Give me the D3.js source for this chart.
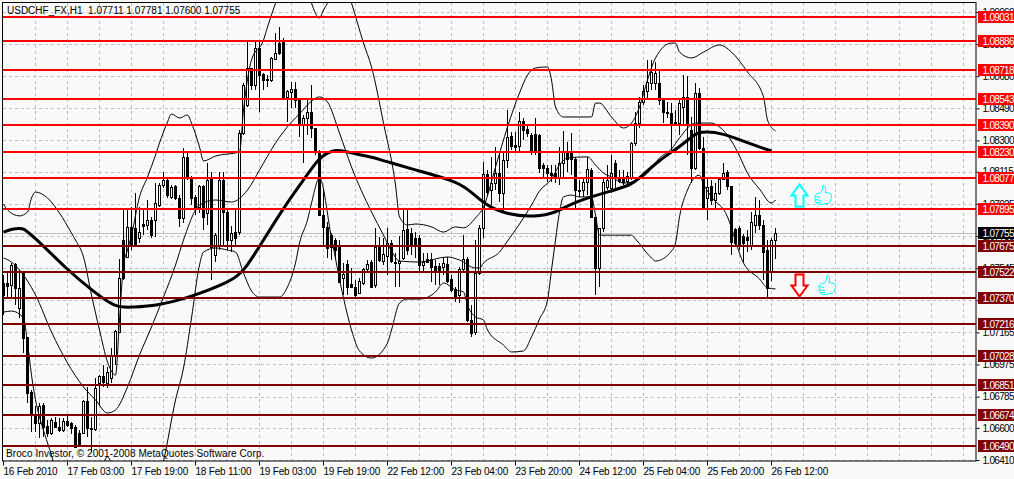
<!DOCTYPE html>
<html>
<head>
<meta charset="utf-8">
<script src="https://cdnjs.cloudflare.com/ajax/libs/d3/7.8.5/d3.min.js"></script>
<style>
	html, body { margin: 0; padding: 0; background: #f9f9f9; overflow: hidden; }
	text { font-family: "Liberation Sans", Arial, sans-serif; font-size: 10px; fill: #000; }
	#chart { display: block; }
	.tick line { stroke: #000; }
</style>
</head>
<body>
<div id="chart"></div>
<script>
// hourly USDCHF candles, one entry per bar
let opens = [
	1.07457,1.07457,1.07445,1.07569,1.07309,1.07516,1.07138,1.06812,1.06676,1.06629,
	1.06735,1.06612,1.06569,1.06635,1.06606,1.06587,1.06641,1.06629,1.06606,1.06569,
	1.06569,1.06759,1.06600,1.06594,1.06865,1.06907,1.06865,1.06895,1.07031,1.07167,
	1.07711,1.07611,1.07789,1.07783,1.07723,1.07806,1.07800,1.07830,1.07830,1.07918,
	1.08036,1.08066,1.07966,1.08030,1.07960,1.07842,1.08203,1.08078,1.07966,1.07907,
	1.08030,1.07871,1.08072,1.07622,1.07681,1.08066,1.07877,1.07711,1.07758,1.07758,
	1.08344,1.08509,1.08729,1.08628,1.08847,1.08693,1.08664,1.08658,1.08782,1.08876,
	1.08882,1.08558,1.08587,1.08605,1.08539,1.08397,1.08433,1.08468,1.08374,1.08232,
	1.07859,1.07789,1.07740,1.07711,1.07676,1.07487,1.07569,1.07451,1.07434,1.07398,
	1.07457,1.07540,1.07581,1.07445,1.07670,1.07587,1.07617,1.07693,1.07581,1.07575,
	1.07605,1.07777,1.07752,1.07723,1.07723,1.07563,1.07599,1.07599,1.07558,1.07558,
	1.07552,1.07569,1.07481,1.07422,1.07386,1.07540,1.07599,1.07238,1.07167,1.07516,
	1.07783,1.08101,1.08007,1.08048,1.08107,1.07989,1.08185,1.08327,1.08273,1.08267,
	1.08415,1.08368,1.08333,1.08339,1.08333,1.08155,1.08137,1.08107,1.08107,1.08084,
	1.08167,1.08238,1.08238,1.08191,1.08007,1.08007,1.08054,1.08125,1.07848,1.07546,
	1.07783,1.08025,1.08019,1.08167,1.08078,1.08078,1.08060,1.08084,1.08285,1.08403,
	1.08527,1.08593,1.08640,1.08640,1.08640,1.08539,1.08468,1.08462,1.08409,1.08403,
	1.08498,1.08558,1.08362,1.08137,1.08581,1.08256,1.07960,1.08030,1.07948,1.07989,
	1.08072,1.08113,1.08030,1.07777,1.07783,1.07735,1.07729,1.07681,1.07800,1.07859,
	1.07800,1.07652,1.07522,1.07711
];
let highs = [
	1.07504,1.07516,1.07575,1.07575,1.07534,1.07516,1.07138,1.06824,1.06730,1.06747,
	1.06747,1.06647,1.06659,1.06665,1.06659,1.06659,1.06676,1.06635,1.06617,1.06587,
	1.06765,1.06842,1.06665,1.06895,1.06912,1.06972,1.06961,1.07073,1.07179,1.07599,
	1.07901,1.07901,1.07907,1.07989,1.07907,1.07901,1.07948,1.07848,1.08048,1.08048,
	1.08113,1.08078,1.08036,1.08036,1.07977,1.08256,1.08226,1.08090,1.07977,1.08036,
	1.08036,1.08167,1.08113,1.07752,1.08113,1.08113,1.07901,1.07795,1.07889,1.08362,
	1.08640,1.08882,1.08729,1.08882,1.08882,1.08699,1.08687,1.08794,1.08935,1.08971,
	1.08906,1.08599,1.08646,1.08646,1.08552,1.08450,1.08539,1.08628,1.08374,1.08244,
	1.08019,1.07818,1.07752,1.07723,1.07711,1.07575,1.07593,1.07546,1.07475,1.07487,
	1.07546,1.07593,1.07593,1.07783,1.07729,1.07723,1.07783,1.07711,1.07634,1.07735,
	1.07889,1.07889,1.07783,1.07758,1.07740,1.07634,1.07634,1.07634,1.07593,1.07575,
	1.07611,1.07611,1.07504,1.07434,1.07552,1.07740,1.07611,1.07326,1.07711,1.07800,
	1.08173,1.08125,1.08203,1.08262,1.08226,1.08232,1.08480,1.08350,1.08350,1.08468,
	1.08433,1.08391,1.08344,1.08433,1.08339,1.08167,1.08155,1.08155,1.08155,1.08262,
	1.08356,1.08291,1.08344,1.08203,1.08066,1.08084,1.08203,1.08137,1.07848,1.07783,
	1.08084,1.08155,1.08214,1.08185,1.08125,1.08125,1.08113,1.08291,1.08468,1.08558,
	1.08628,1.08776,1.08776,1.08764,1.08717,1.08545,1.08527,1.08521,1.08480,1.08539,
	1.08687,1.08681,1.08439,1.08640,1.08611,1.08321,1.08078,1.08066,1.08048,1.08084,
	1.08167,1.08125,1.08030,1.07783,1.07795,1.07746,1.07770,1.07877,1.07966,1.07948,
	1.07830,1.07711,1.07723,1.07781
];
let lows = [
	1.07267,1.07368,1.07368,1.07326,1.07250,1.07043,1.06747,1.06575,1.06575,1.06540,
	1.06546,1.06546,1.06557,1.06600,1.06575,1.06575,1.06606,1.06563,1.06481,1.06487,
	1.06569,1.06546,1.06457,1.06581,1.06735,1.06842,1.06836,1.06865,1.06972,1.07161,
	1.07475,1.07611,1.07652,1.07670,1.07693,1.07740,1.07770,1.07723,1.07729,1.07907,
	1.08019,1.07960,1.07954,1.07948,1.07789,1.07812,1.08066,1.07918,1.07859,1.07871,
	1.07770,1.07800,1.07475,1.07581,1.07652,1.07681,1.07652,1.07640,1.07681,1.07740,
	1.08333,1.08498,1.08599,1.08599,1.08468,1.08599,1.08617,1.08646,1.08776,1.08805,
	1.08539,1.08409,1.08492,1.08492,1.08321,1.08167,1.08333,1.08315,1.08214,1.07854,
	1.07681,1.07605,1.07593,1.07605,1.07463,1.07386,1.07386,1.07428,1.07368,1.07398,
	1.07445,1.07516,1.07428,1.07428,1.07581,1.07563,1.07504,1.07575,1.07434,1.07434,
	1.07593,1.07622,1.07622,1.07605,1.07522,1.07516,1.07581,1.07463,1.07445,1.07445,
	1.07504,1.07457,1.07404,1.07344,1.07338,1.07522,1.07226,1.07138,1.07150,1.07504,
	1.07723,1.07977,1.07918,1.08007,1.07936,1.07877,1.08137,1.08244,1.08232,1.08232,
	1.08303,1.08321,1.08214,1.08214,1.08107,1.08078,1.08054,1.08054,1.08048,1.08036,
	1.08084,1.08113,1.08095,1.07889,1.07966,1.07966,1.07977,1.07842,1.07386,1.07434,
	1.07758,1.08007,1.07989,1.08007,1.08048,1.08036,1.08036,1.08066,1.08267,1.08374,
	1.08509,1.08552,1.08599,1.08599,1.08509,1.08403,1.08433,1.08244,1.08391,1.08333,
	1.08391,1.08214,1.08048,1.08125,1.08244,1.07889,1.07830,1.07918,1.07889,1.07977,
	1.08066,1.08007,1.07622,1.07676,1.07652,1.07581,1.07640,1.07652,1.07752,1.07770,
	1.07475,1.07362,1.07469,1.07600
];
let closes = [
	1.07386,1.07440,1.07563,1.07428,1.07428,1.07132,1.06806,1.06676,1.06629,1.06730,
	1.06606,1.06569,1.06647,1.06606,1.06587,1.06641,1.06617,1.06600,1.06487,1.06493,
	1.06759,1.06600,1.06594,1.06836,1.06907,1.06871,1.06930,1.07031,1.07173,1.07487,
	1.07487,1.07789,1.07681,1.07681,1.07758,1.07795,1.07830,1.07740,1.07930,1.08036,
	1.08066,1.07977,1.08025,1.07960,1.07842,1.08203,1.08078,1.07960,1.07907,1.08030,
	1.07848,1.08066,1.07670,1.07740,1.08066,1.07877,1.07711,1.07752,1.07723,1.08344,
	1.08628,1.08729,1.08628,1.08847,1.08687,1.08658,1.08658,1.08788,1.08817,1.08817,
	1.08558,1.08593,1.08605,1.08539,1.08403,1.08433,1.08468,1.08374,1.08232,1.07859,
	1.07789,1.07664,1.07670,1.07652,1.07463,1.07510,1.07434,1.07434,1.07386,1.07469,
	1.07540,1.07569,1.07434,1.07670,1.07593,1.07628,1.07693,1.07587,1.07575,1.07587,
	1.07770,1.07652,1.07681,1.07681,1.07563,1.07581,1.07581,1.07552,1.07522,1.07522,
	1.07575,1.07469,1.07416,1.07380,1.07540,1.07599,1.07238,1.07161,1.07516,1.07783,
	1.08101,1.07995,1.08048,1.08107,1.07989,1.08185,1.08321,1.08267,1.08262,1.08415,
	1.08362,1.08344,1.08232,1.08232,1.08137,1.08137,1.08107,1.08095,1.08084,1.08167,
	1.08238,1.08191,1.08191,1.08007,1.08001,1.08054,1.08131,1.07848,1.07546,1.07783,
	1.08054,1.08066,1.08107,1.08078,1.08060,1.08054,1.08090,1.08285,1.08403,1.08527,
	1.08593,1.08646,1.08705,1.08699,1.08539,1.08468,1.08462,1.08403,1.08403,1.08521,
	1.08558,1.08391,1.08137,1.08581,1.08256,1.07901,1.08025,1.07948,1.07989,1.08072,
	1.08107,1.08030,1.07699,1.07693,1.07681,1.07693,1.07711,1.07818,1.07859,1.07800,
	1.07640,1.07428,1.07711,1.07755
];

// thick moving average, read at these bars
let maBars = [0,2,5,6,8,16,22,28,32,38,47,57,60,65,70,75,79,82,84,88,92,96,105,112,116,120,126,133,138,142,150,157,159,164,169,172,174,180,186,192];
let maValues = [
	1.07758,1.07777,1.07783,1.07758,1.07723,1.07534,1.07416,1.07309,1.07315,1.07321,
	1.07374,1.07469,1.07522,1.07711,1.07901,1.08066,1.08203,1.08238,1.08244,1.08220,
	1.08203,1.08173,1.08113,1.08066,1.08019,1.07924,1.07859,1.07848,1.07871,1.07930,
	1.07989,1.08036,1.08078,1.08185,1.08262,1.08321,1.08356,1.08344,1.08285,1.08238
];

// thin band lines
let upperBars = [0,1,4,6,7,8,11,14,17,18,20,22,24,26,28,29,30,31,32,34,36,38,39,41,42,44,46,47,49,50,53,59,60,62,65,66,68,71,75,77,79,80,81,84,87,90,92,95,98,99,101,103,107,110,113,115,118,120,123,126,129,131,133,136,137,138,140,144,147,148,149,152,155,157,159,161,163,167,168,169,172,175,179,182,186,190,191,193];
let upperValues = [
	1.07924,1.07889,1.07854,1.07877,1.07960,1.07995,1.07960,1.07871,1.07752,1.07711,
	1.07611,1.07386,1.07179,1.06990,1.06912,1.07238,1.07563,1.07652,1.07740,1.07966,
	1.08084,1.08214,1.08285,1.08409,1.08457,1.08433,1.08451,1.08403,1.08262,1.08179,
	1.08208,1.08232,1.08480,1.08776,1.08894,1.08971,1.09113,1.09308,1.09308,1.09113,
	1.09025,1.09072,1.09113,1.09308,1.09113,1.08876,1.08735,1.08403,1.08036,1.07848,
	1.07800,1.07806,1.07789,1.07758,1.07789,1.07783,1.07842,1.07907,1.08143,1.08380,
	1.08581,1.08687,1.08729,1.08735,1.08658,1.08498,1.08439,1.08439,1.08439,1.08521,
	1.08521,1.08439,1.08374,1.08403,1.08498,1.08658,1.08788,1.08876,1.08876,1.08823,
	1.08788,1.08823,1.08865,1.08823,1.08705,1.08558,1.08421,1.08356
];
let middleBars = [0,2,4,8,12,16,20,23,26,28,31,34,37,40,43,45,49,53,57,61,64,68,72,74,77,79,81,84,87,92,95,97,99,104,111,114,118,119,120,124,126,129,132,134,137,139,141,146,148,150,152,155,159,161,164,167,169,173,177,179,182,184,186,189,192,193];
let middleValues = [
	1.07605,1.07581,1.07534,1.07386,1.07167,1.06984,1.06842,1.06765,1.06688,1.06706,
	1.06842,1.07031,1.07197,1.07374,1.07563,1.07711,1.07918,1.07948,1.07936,1.08007,
	1.08125,1.08285,1.08409,1.08457,1.08533,1.08558,1.08527,1.08344,1.08143,1.07877,
	1.07740,1.07646,1.07587,1.07581,1.07611,1.07593,1.07546,1.07546,1.07575,1.07640,
	1.07705,1.07806,1.07918,1.08001,1.08072,1.08155,1.08197,1.08203,1.08155,1.08107,
	1.08084,1.08048,1.08072,1.08107,1.08197,1.08250,1.08315,1.08403,1.08403,1.08380,
	1.08297,1.08208,1.08107,1.08013,1.07930,1.07948
];
let lowerBars = [0,2,5,6,7,11,12,14,20,24,26,28,34,40,43,45,47,49,50,53,56,58,60,62,64,69,71,73,74,76,77,79,82,85,87,89,92,96,97,99,101,104,108,110,113,115,116,118,120,121,125,127,130,132,134,136,137,138,139,140,142,144,147,148,149,153,157,158,162,163,167,168,169,171,174,175,177,181,182,183,185,189,191,193];
let lowerValues = [
	1.07285,1.07291,1.07250,1.07102,1.06912,1.06511,1.06440,1.06233,1.06055,1.06321,
	1.06428,1.06321,1.06055,1.06404,1.06765,1.06954,1.07250,1.07563,1.07640,1.07664,
	1.07652,1.07640,1.07516,1.07410,1.07374,1.07374,1.07434,1.07575,1.07693,1.07830,
	1.07930,1.08078,1.07723,1.07368,1.07179,1.07055,1.07013,1.07102,1.07179,1.07338,
	1.07362,1.07362,1.07404,1.07457,1.07416,1.07404,1.07326,1.07256,1.07238,1.07179,
	1.07090,1.07049,1.07055,1.07138,1.07244,1.07356,1.07534,1.07711,1.07877,1.07966,
	1.07977,1.07966,1.07966,1.07859,1.07740,1.07740,1.07740,1.07717,1.07605,1.07587,
	1.07646,1.07693,1.07848,1.08007,1.08095,1.08042,1.07966,1.07848,1.07783,1.07705,
	1.07575,1.07481,1.07428,1.07422
];

// drawn support / resistance levels
let resistanceLevels = [1.09031,1.08886,1.08718,1.08543,1.08390,1.08230,1.08077,1.07895];
let supportLevels = [1.07675,1.07522,1.07370,1.07216,1.07028,1.06851,1.06674,1.06490];
let bidPrice = 1.07755;

// axis ticks
let priceTicks = [1.06410,1.06600,1.06785,1.06975,1.07165,1.07355,1.07545,1.07735,1.07925,1.08115,1.08300,1.08490,1.08680,1.08870,1.09060];
let timeTickBars = [0,16,32,48,64,80,96,112,128,144,160,176,192];
let timeTickLabels = ['16 Feb 2010','17 Feb 03:00','17 Feb 19:00','18 Feb 11:00','19 Feb 03:00','19 Feb 19:00','22 Feb 12:00','23 Feb 04:00','23 Feb 20:00','24 Feb 12:00','25 Feb 04:00','25 Feb 20:00','26 Feb 12:00'];
let gridBars = d3.range(8, 241, 8);

// arrow + thumb pairs to the right of the last bar
let signalBars = [199, 199];
let signalThumbBars = [205, 206];
let signalPrices = [1.07975, 1.07442];
let signalColors = ['#00ffff', '#ff0000'];

let width = 1014, height = 479;
let plot = { left: 3, top: 3, right: 976, bottom: 461 };

let x = d3.scaleLinear().domain([0, 243]).range([3, 975]);
let y = d3.scaleLinear().domain([1.0641, 1.0906]).range([460, 12]);

let svg = d3.select('#chart').append('svg')
	.attr('width', width)
	.attr('height', height);

svg.append('defs').append('clipPath').attr('id', 'plot-clip')
	.append('rect')
	.attr('x', plot.left)
	.attr('y', plot.top)
	.attr('width', plot.right - plot.left)
	.attr('height', plot.bottom - plot.top);

let body = svg.append('g').attr('clip-path', 'url(#plot-clip)');

// grid
body.selectAll('line.vgrid').data(gridBars).enter().append('line')
	.attr('class', 'vgrid')
	.attr('x1', d => x(d) + 0.5).attr('x2', d => x(d) + 0.5)
	.attr('y1', plot.top).attr('y2', plot.bottom)
	.attr('stroke', '#c0c0c0').attr('stroke-dasharray', '3,3');
body.selectAll('line.hgrid').data(priceTicks).enter().append('line')
	.attr('class', 'hgrid')
	.attr('x1', plot.left).attr('x2', plot.right)
	.attr('y1', d => Math.round(y(d)) + 0.5).attr('y2', d => Math.round(y(d)) + 0.5)
	.attr('stroke', '#c0c0c0').attr('stroke-dasharray', '3,3');

// bid line
body.append('line')
	.attr('x1', plot.left).attr('x2', plot.right)
	.attr('y1', Math.round(y(bidPrice)) + 0.5).attr('y2', Math.round(y(bidPrice)) + 0.5)
	.attr('stroke', '#c0c0c0');

// candles
let candles = body.append('g').attr('class', 'candles').attr('shape-rendering', 'crispEdges');
let barIdx = d3.range(opens.length);
candles.selectAll('line').data(barIdx).enter().append('line')
	.attr('x1', i => x(i) + 0.5).attr('x2', i => x(i) + 0.5)
	.attr('y1', i => y(highs[i])).attr('y2', i => y(lows[i]))
	.attr('stroke', '#000');
candles.selectAll('rect').data(barIdx).enter().append('rect')
	.attr('x', i => x(i) - 0.5)
	.attr('y', i => Math.round(y(Math.max(opens[i], closes[i]))) + 0.5)
	.attr('width', 2)
	.attr('height', i => Math.max(Math.round(Math.abs(y(opens[i]) - y(closes[i]))), 1))
	.attr('fill', i => closes[i] > opens[i] ? '#fff' : '#000')
	.attr('stroke', '#000');

// indicators
let drawLine = (bars, values, w, curve) => {
	let line = d3.line().x((d, i) => x(bars[i]) + 0.5).y(d => y(d)).curve(curve);
	body.append('path').datum(values)
		.attr('d', line)
		.attr('fill', 'none')
		.attr('stroke', '#000')
		.attr('stroke-width', w);
};
drawLine(upperBars, upperValues, 1, d3.curveMonotoneX);
drawLine(middleBars, middleValues, 1, d3.curveMonotoneX);
drawLine(lowerBars, lowerValues, 1, d3.curveMonotoneX);
drawLine(maBars, maValues, 3, d3.curveBasis);

// level lines
let levelColor = d => resistanceLevels.includes(d) ? '#ff0000' : '#800000';
let levels = resistanceLevels.concat(supportLevels);
body.selectAll('rect.level').data(levels).enter().append('rect')
	.attr('class', 'level')
	.attr('x', plot.left).attr('width', plot.right - plot.left)
	.attr('y', d => Math.round(y(d)) - 1).attr('height', 2)
	.attr('fill', levelColor);

// signal arrows and thumbs
let arrowUp = 'M0,-11 L8,0 L4,0 L4,11 L-4,11 L-4,0 L-8,0 Z';
let arrowDown = 'M0,11 L8,0 L4,0 L4,-11 L-4,-11 L-4,0 L-8,0 Z';
let thumb = 'M-8,1 C-8,-2 -4,-2 -2,-3 C0,-5 -1,-8 0,-10 C3,-10 3,-6 2,-3 L7,-2 C9,-1 9,2 8,3 C8,5 7,7 5,8 L-3,9 C-7,9 -8,6 -8,1 Z M-8,1 L-3,2 M-8,4 L-2,5 M-7,7 L-2,7';
signalBars.forEach((bar, i) => {
	body.append('path')
		.attr('d', i === 0 ? arrowUp : arrowDown)
		.attr('transform', `translate(${x(bar) + 0.5},${y(signalPrices[i])})`)
		.attr('fill', i === 0 ? '#f9f9f9' : '#fff')
		.attr('stroke', signalColors[i])
		.attr('stroke-width', 2);
	body.append('path')
		.attr('d', thumb)
		.attr('transform', `translate(${x(signalThumbBars[i])},${y(signalPrices[i])})`)
		.attr('fill', '#f9f9f9')
		.attr('stroke', '#00ffff');
});

// axes
let yAxis = d3.axisRight(y)
	.tickValues(priceTicks)
	.tickSize(3)
	.tickPadding(3)
	.tickFormat(d3.format('.5f'));
let gy = svg.append('g')
	.attr('transform', `translate(${plot.right + 0.5},0)`)
	.call(yAxis);
gy.select('.domain').remove();
gy.selectAll('text').attr('letter-spacing', '-0.7');

let xAxis = d3.axisBottom(x)
	.tickValues(timeTickBars)
	.tickSize(4)
	.tickPadding(2)
	.tickFormat((d, i) => timeTickLabels[i]);
let gx = svg.append('g')
	.attr('transform', `translate(0,${plot.bottom + 0.5})`)
	.call(xAxis);
gx.select('.domain').remove();
gx.selectAll('text').style('text-anchor', 'start').attr('letter-spacing', '-0.2');

// plot border
svg.append('rect')
	.attr('x', plot.left - 0.5).attr('y', plot.top - 0.5)
	.attr('width', plot.right - plot.left + 0.5)
	.attr('height', plot.bottom - plot.top + 0.5)
	.attr('fill', 'none').attr('stroke', '#000');

// price flags over the axis
let flags = svg.append('g');
let flagData = levels.concat([bidPrice]);
let flagColor = d => d === bidPrice ? '#000' : levelColor(d);
flags.selectAll('rect').data(flagData).enter().append('rect')
	.attr('x', plot.right + 2).attr('width', width - plot.right - 2)
	.attr('y', d => Math.round(y(d)) - 6).attr('height', 12)
	.attr('fill', flagColor);
flags.selectAll('text').data(flagData).enter().append('text')
	.attr('x', plot.right + 6.5)
	.attr('y', d => Math.round(y(d)))
	.attr('dy', '0.35em')
	.attr('letter-spacing', '-0.7')
	.style('fill', '#fff')
	.text(d => d3.format('.5f')(d));

// chart caption and footer
svg.append('text').attr('x', 7).attr('y', 14).text('USDCHF_FX,H1  1.07711 1.07781 1.07600 1.07755').attr('xml:space', 'preserve');
svg.append('text').attr('x', 6).attr('y', 457).attr('letter-spacing', '0.08').text('Broco Investor, © 2001-2008 MetaQuotes Software Corp.');
</script>
</body>
</html>
